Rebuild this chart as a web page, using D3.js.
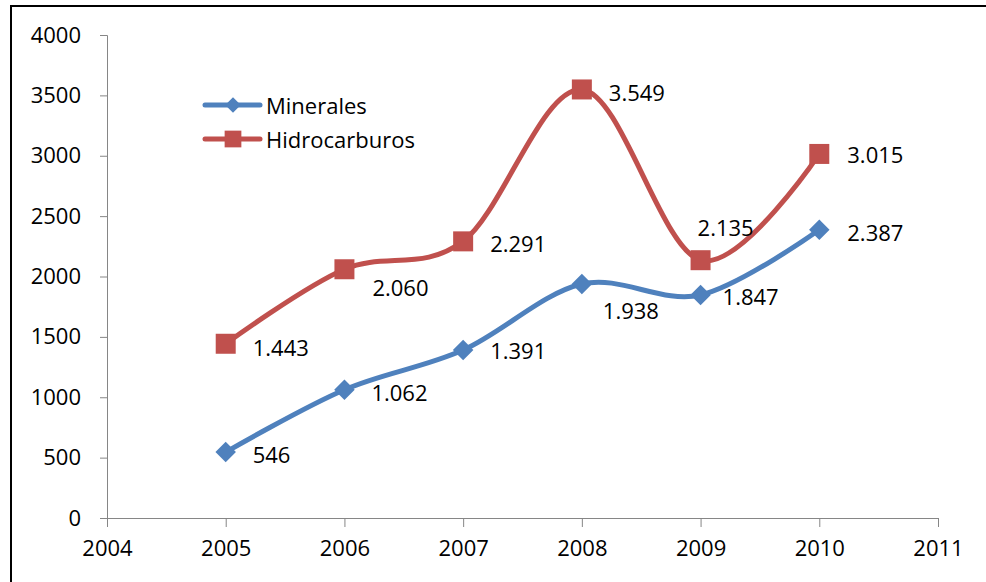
<!DOCTYPE html>
<html>
<head>
<meta charset="utf-8">
<script src="https://cdn.jsdelivr.net/npm/d3@7"></script>
<style>
  html, body { margin: 0; padding: 0; background: #fff; }
  svg { display: block; }
  text { font-family: "Open Sans", Lato, sans-serif; fill: #000; }
</style>
</head>
<body>
<svg id="chart" width="986" height="582"></svg>
<script>
const years = [2005, 2006, 2007, 2008, 2009, 2010];
const minerales = [546, 1062, 1391, 1938, 1847, 2387];
const hidrocarburos = [1443, 2060, 2291, 3549, 2135, 3015];
const yTicks = [0, 500, 1000, 1500, 2000, 2500, 3000, 3500, 4000];
const xTicks = [2004, 2005, 2006, 2007, 2008, 2009, 2010, 2011];

// label nudges (dx, dy) where Excel labels were moved by hand
const mineralesLabelOffsets = [[27, 2], [27, 2], [27, 0], [21, 26], [22, 1], [28, 2]];
const hidroLabelOffsets = [[27, 3], [28, 18], [27, 2], [27, 3], [-3, -33], [28, 0]];

const width = 986;
const height = 582;

const svg = d3.select("#chart");
svg.selectAll("*").remove();

// Outer chart border (right/bottom edges fall outside the crop)
svg.append("rect")
  .attr("x", 11).attr("y", 6)
  .attr("width", width + 20).attr("height", height + 20)
  .attr("fill", "none")
  .attr("stroke", "#000")
  .attr("stroke-width", 2);

const x = d3.scaleLinear().domain([2004, 2011]).range([107, 938]);
const y = d3.scaleLinear().domain([0, 4000]).range([518, 35]);

const axisColor = "#868686";

// Y axis
const yAxis = svg.append("g")
  .attr("transform", `translate(${x(2004)},0)`)
  .call(d3.axisLeft(y).tickValues(yTicks).tickSize(7).tickPadding(19).tickFormat(d3.format("d")));
yAxis.select(".domain").attr("stroke", axisColor);
yAxis.selectAll(".tick line").attr("stroke", axisColor);
yAxis.selectAll("text").attr("font-size", "22px").attr("fill", "#000");

// X axis
const xAxis = svg.append("g")
  .attr("transform", `translate(0,${y(0)})`)
  .call(d3.axisBottom(x).tickValues(xTicks).tickSize(9).tickSizeOuter(9).tickPadding(13).tickFormat(d3.format("d")));
xAxis.select(".domain").attr("stroke", axisColor);
xAxis.selectAll(".tick line").attr("stroke", axisColor);
xAxis.selectAll("text").attr("font-size", "22px").attr("fill", "#000");

const fmt = d3.formatLocale({ decimal: ",", thousands: ".", grouping: [3], currency: ["", ""] }).format(",");

// Excel diamonds are squares turned 45 degrees
const series = [
  { name: "Minerales", values: minerales, color: "#4F81BD", rotate: 45, size: 210, legendSize: 120, offsets: mineralesLabelOffsets },
  { name: "Hidrocarburos", values: hidrocarburos, color: "#C0504D", rotate: 0, size: 400, legendSize: 280, offsets: hidroLabelOffsets }
];

const line = d3.line()
  .x((d, i) => x(years[i]))
  .y((d) => y(d))
  .curve(d3.curveCardinal.tension(0));

series.forEach((s) => {
  svg.append("path")
    .attr("d", line(s.values))
    .attr("fill", "none")
    .attr("stroke", s.color)
    .attr("stroke-width", 5)
    .attr("stroke-linecap", "round");

  svg.selectAll(null)
    .data(s.values)
    .enter()
    .append("path")
    .attr("d", d3.symbol().type(d3.symbolSquare).size(s.size))
    .attr("transform", (d, i) => `translate(${x(years[i])},${y(d)}) rotate(${s.rotate})`)
    .attr("fill", s.color);

  svg.selectAll(null)
    .data(s.values)
    .enter()
    .append("text")
    .attr("x", (d, i) => x(years[i]) + s.offsets[i][0])
    .attr("y", (d, i) => y(d) + s.offsets[i][1])
    .attr("dominant-baseline", "central")
    .attr("font-size", "22px")
    .text((d) => fmt(d));
});

// Legend
const legend = svg.append("g").attr("transform", "translate(205,105)");
series.forEach((s, i) => {
  const g = legend.append("g").attr("transform", `translate(0,${i * 34})`);
  g.append("line")
    .attr("x1", 0).attr("x2", 55)
    .attr("stroke", s.color)
    .attr("stroke-width", 5)
    .attr("stroke-linecap", "round");
  g.append("path")
    .attr("d", d3.symbol().type(d3.symbolSquare).size(s.legendSize))
    .attr("transform", `translate(28,0) rotate(${s.rotate})`)
    .attr("fill", s.color);
  g.append("text")
    .attr("x", 61)
    .attr("dominant-baseline", "central")
    .attr("font-size", "22px")
    .text(s.name);
});
</script>
</body>
</html>
